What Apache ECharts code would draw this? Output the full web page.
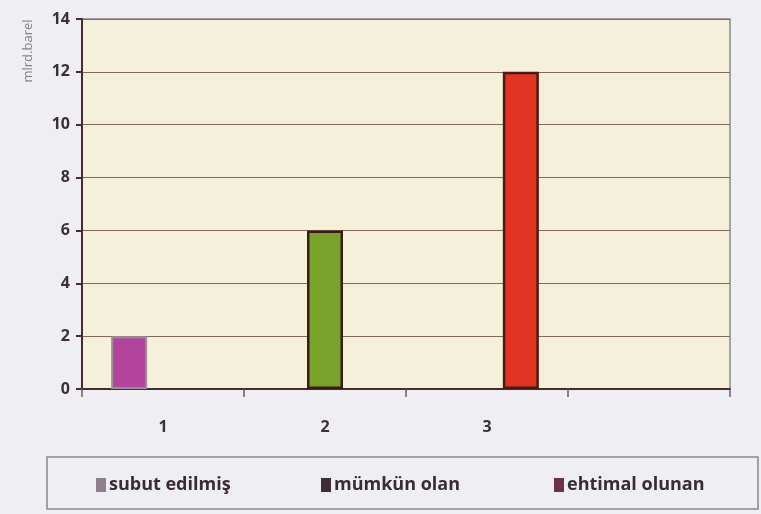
<!DOCTYPE html>
<html>
<head>
<meta charset="utf-8">
<script src="https://cdn.jsdelivr.net/npm/echarts@6/dist/echarts.min.js"></script>
<style>
  html, body { margin: 0; padding: 0; background: #eeeef3; }
  #chart { width: 761px; height: 514px; }
</style>
</head>
<body>
<div id="chart"></div>
<script>
// data
var categories = ['1', '2', '3', ''];
var subut = [2, '-', '-', '-'];
var mumkun = ['-', 6, '-', '-'];
var ehtimal = ['-', '-', 12, '-'];
var seriesNames = ['subut edilmiş', 'mümkün olan', 'ehtimal olunan'];
var legendIconColors = ['#8e7f8c', '#3c2e35', '#6b3446'];

var myChart = echarts.init(document.getElementById('chart'));

var labelFont = 'Open Sans';
var legendLefts = [96, 321, 554];

// one legend per item so they can sit spread out across the box
var legends = seriesNames.map(function (name, i) {
    return {
        left: legendLefts[i],
        top: 476,
        itemWidth: 10,
        itemHeight: 14,
        itemGap: 4,
        icon: 'rect',
        selectedMode: false,
        padding: 0,
        textStyle: {
            fontFamily: labelFont,
            fontWeight: 'bold',
            fontSize: 18,
            color: '#3a2c34',
            padding: [0, 0, 0, -2]
        },
        data: [{ name: name, itemStyle: { color: legendIconColors[i], borderWidth: 0 } }]
    };
});

var option = {
    backgroundColor: '#eeeef3',
    animation: false,
    grid: {
        left: 82, right: 31, top: 19, bottom: 125,
        show: true,
        backgroundColor: '#f4f0d9',
        borderColor: '#8f8690',
        borderWidth: 1.5
    },
    legend: legends,
    graphic: [
        {
            type: 'rect',
            shape: { x: 47, y: 457, width: 711, height: 52 },
            style: { fill: 'none', stroke: '#8a8890', lineWidth: 1.5 }
        },
        {
            type: 'text',
            x: 28, y: 51,
            rotation: Math.PI / 2,
            style: {
                text: 'mlrd.barel',
                fontFamily: labelFont,
                fontSize: 13,
                fill: '#85828a',
                textAlign: 'center',
                textVerticalAlign: 'middle'
            }
        }
    ],
    xAxis: {
        type: 'category',
        data: categories,
        axisLine: { lineStyle: { color: '#4a2a2c', width: 2 } },
        axisTick: { show: true, length: 8, lineStyle: { color: '#6a5a5c', width: 1.5 } },
        axisLabel: {
            margin: 30,
            fontFamily: labelFont,
            fontWeight: 'bold',
            fontSize: 16,
            color: '#3a3036'
        }
    },
    yAxis: {
        type: 'value',
        min: 0, max: 14, interval: 2,
        axisLine: { show: true, lineStyle: { color: '#4a2a2c', width: 2 } },
        axisTick: { show: true, length: 6, lineStyle: { color: '#4a2a2c', width: 2 } },
        axisLabel: {
            margin: 12,
            fontFamily: labelFont,
            fontWeight: 'bold',
            fontSize: 16,
            color: '#3a3036'
        },
        splitLine: { lineStyle: { color: '#806a5c', width: 1.2 } }
    },
    series: [
        {
            name: seriesNames[0], type: 'bar', data: subut,
            barGap: '-6%', barCategoryGap: '36%',
            itemStyle: { color: '#b2449e', borderColor: '#9a8e98', borderWidth: 2 }
        },
        {
            name: seriesNames[1], type: 'bar', data: mumkun,
            barGap: '-6%', barCategoryGap: '36%',
            itemStyle: { color: '#79a22c', borderColor: '#3a1c14', borderWidth: 2.5 }
        },
        {
            name: seriesNames[2], type: 'bar', data: ehtimal,
            barGap: '-6%', barCategoryGap: '36%',
            itemStyle: { color: '#e23422', borderColor: '#4a1a14', borderWidth: 2.5 }
        }
    ]
};

myChart.setOption(option);
</script>
</body>
</html>
